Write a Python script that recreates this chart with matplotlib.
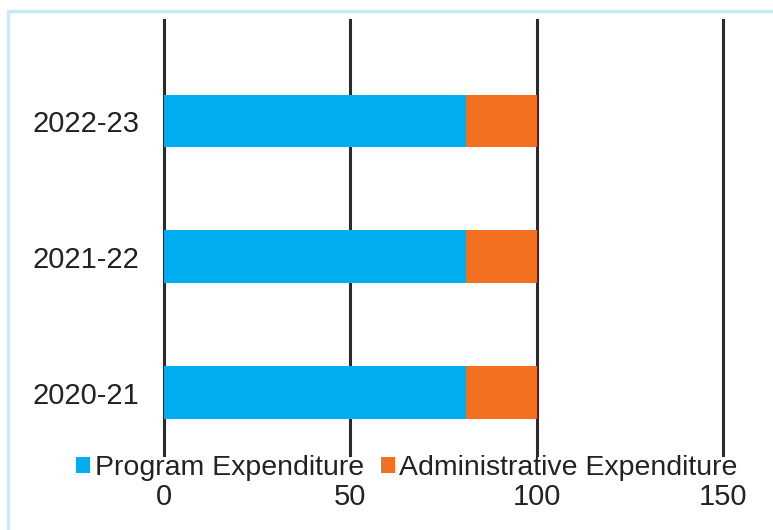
import matplotlib.pyplot as plt
from matplotlib.patches import Rectangle

# ==========================================================
# DATA
# ==========================================================

years = ["2020-21", "2021-22", "2022-23"]
program = [81, 81, 81]
admin = [19, 19, 19]
x_ticks = [0, 50, 100, 150]

BLUE = "#00AEEF"
ORANGE = "#F37021"
TEXT = "#222222"

# ==========================================================
# STYLE
# ==========================================================

plt.rcParams["font.family"] = ["Liberation Sans", "DejaVu Sans"]

W, H = 773, 530
fig = plt.figure(figsize=(W / 100, H / 100), dpi=100)

ax = fig.add_axes([164 / W, 1 - 455 / H, (723 - 164) / W, (455 - 20) / H])

# ==========================================================
# BARS
# ==========================================================

pos = list(range(len(years)))
ax.barh(pos, program, height=0.39, color=BLUE, label="Program Expenditure", zorder=3)
ax.barh(pos, admin, left=program, height=0.39, color=ORANGE,
        label="Administrative Expenditure", zorder=3)

for t in x_ticks:
    ax.axvline(t, color="#2b2b2b", linewidth=2.2, zorder=2, clip_on=False)

ax.set_xlim(0, 150)
ax.set_ylim(-0.46, 2.744)
ax.set_xticks(x_ticks)
ax.set_yticks(pos)
ax.set_yticklabels(years)

for s in ax.spines.values():
    s.set_visible(False)

ax.tick_params(axis="y", length=0, pad=18, labelsize=21, labelcolor=TEXT)
ax.tick_params(axis="x", length=0, pad=20, labelsize=21, labelcolor=TEXT)

# ==========================================================
# LEGEND
# ==========================================================

fig.legend(
    loc="center left",
    bbox_to_anchor=(76 / W, 1 - 468 / H),
    ncol=2,
    frameon=False,
    fontsize=20.5,
    handlelength=0.5,
    handleheight=0.5,
    handletextpad=0.15,
    columnspacing=0.6,
    borderpad=0,
    borderaxespad=0,
    labelcolor=TEXT,
)

# ==========================================================
# BORDER
# ==========================================================

fig.patches.append(
    Rectangle((8 / W, -0.05), 1.1, 1 - 11 / H + 0.05,
              transform=fig.transFigure, fill=False,
              edgecolor="#C8EAF8", linewidth=2.5)
)

fig.savefig("out.png", dpi=100)
